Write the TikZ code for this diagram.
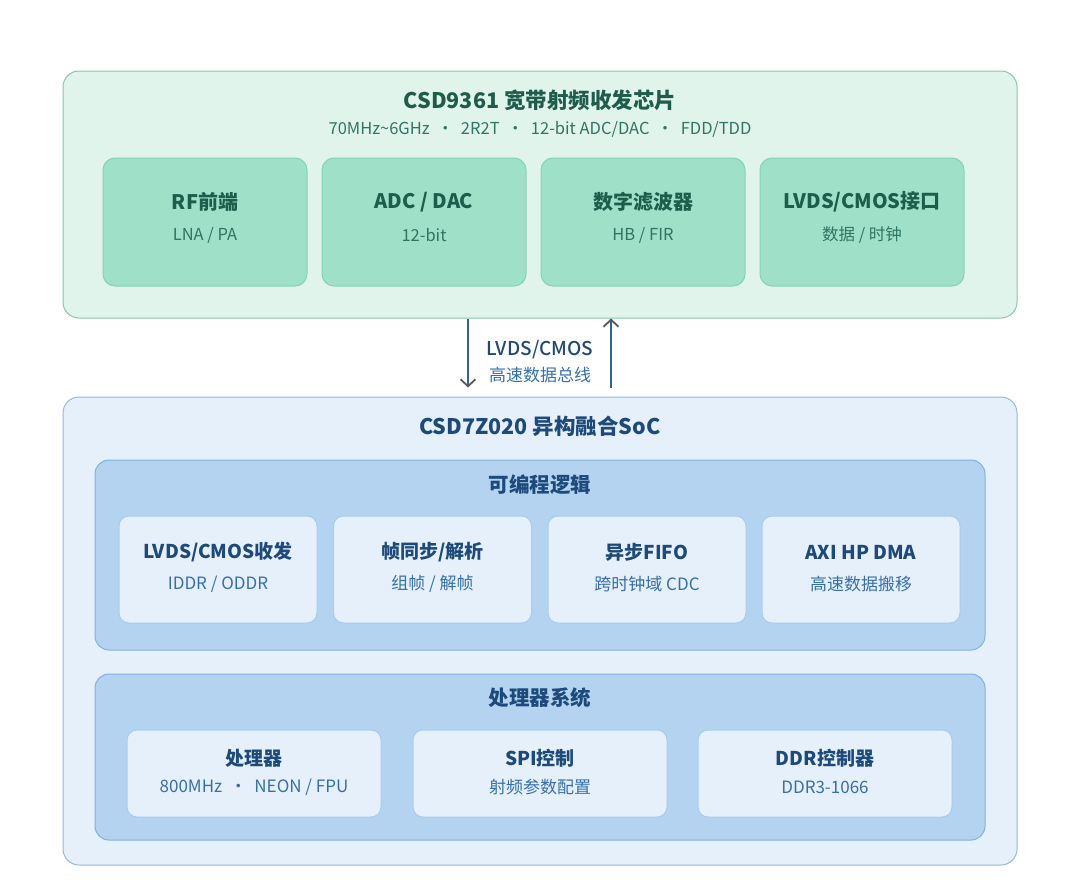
\documentclass[tikz,border=0pt]{standalone}
\usepackage{fontspec}
\setmainfont{Noto Sans CJK SC}
\IfFontExistsTF{Noto Sans CJK SC Medium}
  {\newfontfamily\medfont{Noto Sans CJK SC Medium}}
  {\newfontfamily\medfont{Noto Sans CJK SC}[FakeBold=1.2]}
\usetikzlibrary{arrows.meta}
\definecolor{topfill}{HTML}{E1F4EC}
\definecolor{topdraw}{HTML}{86C7AE}
\definecolor{chipfill}{HTML}{9FE0C9}
\definecolor{chipdraw}{HTML}{84D3B6}
\definecolor{gtitle}{HTML}{1E5C4B}
\definecolor{gsub}{HTML}{2F7563}
\definecolor{botfill}{HTML}{E6F0FA}
\definecolor{botdraw}{HTML}{92B9E0}
\definecolor{grpfill}{HTML}{B4D3F1}
\definecolor{grpdraw}{HTML}{7EB1E3}
\definecolor{cardfill}{HTML}{E6F0FA}
\definecolor{carddraw}{HTML}{A9CBEE}
\definecolor{btitle}{HTML}{1D4A7A}
\definecolor{bsub}{HTML}{3670AC}
\definecolor{arrcol}{HTML}{2E63A0}
\tikzset{
  rbox/.style={rectangle, inner sep=0pt, line width=1pt},
  outertop/.style={rbox, fill=topfill, draw=topdraw, rounded corners=16pt},
  chip/.style={rbox, fill=chipfill, draw=chipdraw, rounded corners=12pt, minimum width=204pt, minimum height=128pt},
  outerbot/.style={rbox, fill=botfill, draw=botdraw, rounded corners=16pt},
  grp/.style={rbox, fill=grpfill, draw=grpdraw, rounded corners=14pt},
  card/.style={rbox, fill=cardfill, draw=carddraw, rounded corners=10pt},
  gbig/.style={text=gtitle, font=\fontsize{21.5}{25}\selectfont\bfseries},
  gsmall/.style={text=gsub, font=\fontsize{16.5}{20}\selectfont},
  gct/.style={text=gtitle, font=\fontsize{20}{24}\selectfont\bfseries},
  gcs/.style={text=gsub, font=\fontsize{16.5}{20}\selectfont},
  bbig/.style={text=btitle, font=\fontsize{21.5}{25}\selectfont\bfseries},
  bgt/.style={text=btitle, font=\fontsize{20.5}{24}\selectfont\bfseries},
  bct/.style={text=btitle, font=\fontsize{19}{23}\selectfont\bfseries},
  bcs/.style={text=bsub, font=\fontsize{17}{20}\selectfont},
  arr/.style={draw=arrcol, line width=2pt, -{Straight Barb[length=7pt,width=15pt,line width=1.8pt,color=black!65]}},
}
\begin{document}
\begin{tikzpicture}[x=1pt,y=-1pt]
\useasboundingbox[fill=white] (0,0) rectangle (1080,889);
% top chip
\node[outertop, minimum width=954pt, minimum height=247pt] (top) at (540,194.5) {};
\node[gbig] (toptitle) at (540,100) {CSD9361 宽带射频收发芯片};
\node[gsmall] (topsub) at (540,129) {70MHz\textasciitilde 6GHz\ \ ・\ \ 2R2T\ \ ・\ \ 12-bit ADC/DAC\ \ ・\ \ FDD/TDD};
\foreach \n/\x/\t/\s in {c1/205/{RF前端}/{LNA / PA}, c2/424/{ADC / DAC}/{12-bit}, c3/643/{数字滤波器}/{HB / FIR}, c4/862/{LVDS/CMOS接口}/{数据 / 时钟}}{
  \node[chip] (\n) at (\x,222) {};
  \node[gct] (\n t) at (\x,202) {\t};
  \node[gcs] (\n s) at (\x,235) {\s};
}
% bottom SoC
\node[outerbot, minimum width=954pt, minimum height=468pt] (bot) at (540,631) {};
\node[bbig] (bottitle) at (540,426) {CSD7Z020 异构融合SoC};
% group 1
\node[grp, minimum width=890pt, minimum height=190pt] (g1) at (540,555) {};
\node[bgt] (g1t) at (540,485) {可编程逻辑};
\foreach \n/\x/\t/\s in {p1/218/{LVDS/CMOS收发}/{IDDR / ODDR}, p2/432.5/{帧同步/解析}/{组帧 / 解帧}, p3/647/{异步FIFO}/{跨时钟域 CDC}, p4/861/{AXI HP DMA}/{高速数据搬移}}{
  \node[card, minimum width=198pt, minimum height=107pt] (\n) at (\x,569.5) {};
  \node[bct] (\n t) at (\x,552) {\t};
  \node[bcs] (\n s) at (\x,584) {\s};
}
% group 2
\node[grp, minimum width=890pt, minimum height=166pt] (g2) at (540,757) {};
\node[bgt] (g2t) at (540,698) {处理器系统};
\foreach \n/\x/\t/\s in {q1/254/{处理器}/{800MHz\ \ ・\ \ NEON / FPU}, q2/540/{SPI控制}/{射频参数配置}, q3/825/{DDR控制器}/{DDR3-1066}}{
  \node[card, minimum width=254pt, minimum height=87pt] (\n) at (\x,773.5) {};
  \node[bct] (\n t) at (\x,758) {\t};
  \node[bcs] (\n s) at (\x,787) {\s};
}
% bus arrows
\coordinate (dn) at (468,0);
\coordinate (up) at (611,0);
\draw[arr] (top.south -| dn) -- ([yshift=9pt]bot.north -| dn);
\draw[arr] ([yshift=9pt]bot.north -| up) -- (top.south -| up);
\node[text=btitle, font=\fontsize{19}{22}\medfont] (busl) at (540,350) {LVDS/CMOS};
\node[text=bsub, font=\fontsize{17}{20}\selectfont] (bus2) at (540,375) {高速数据总线};
\end{tikzpicture}
\end{document}
